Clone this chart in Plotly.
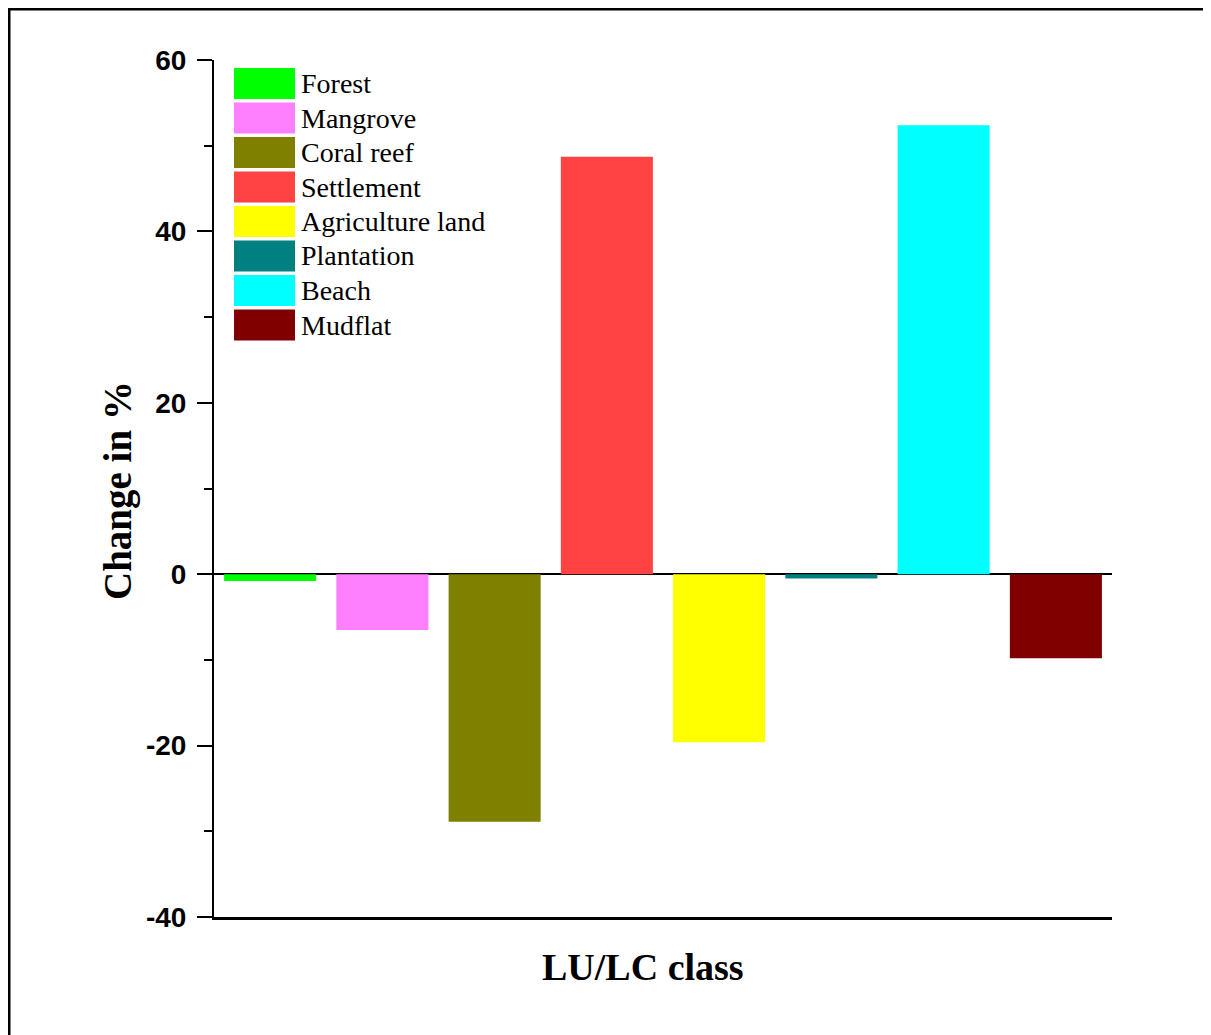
import plotly.graph_objects as go

categories = ["Forest", "Mangrove", "Coral reef", "Settlement",
              "Agriculture land", "Plantation", "Beach", "Mudflat"]
change_pct = [-0.8, -6.5, -28.9, 48.7, -19.6, -0.5, 52.4, -9.8]
colors = ["#00FF00", "#FF80FF", "#808000", "#FF4242",
          "#FFFF00", "#008080", "#00FFFF", "#800000"]
y_ticks = [-40, -20, 0, 20, 40, 60]
y_tick_text = [str(v) for v in y_ticks]

# page body has an 8px margin; figure coordinates = screen - 8
OFF = 8
W, H = 1211 - OFF, 1035 - OFF
L, T = 214 - OFF, 60 - OFF
R, B = W - (1112 - OFF), H - (917 - OFF)
pw, ph = W - L - R, H - T - B


def px(xs):
    return (xs - OFF - L) / pw


def py(ys):
    return 1 - (ys - OFF - T) / ph


fig = go.Figure()
fig.add_trace(go.Bar(
    x=list(range(len(categories))), y=change_pct,
    marker=dict(color=colors, line=dict(width=0)),
    width=0.82, showlegend=False,
    hovertext=categories,
))

# custom legend (large swatches like the original)
sw_x0, sw_x1 = 234, 295
first_top, pitch, sw_h = 68, 34.5, 31
shapes = []
annotations = []
for i, (name, col) in enumerate(zip(categories, colors)):
    top = first_top + i * pitch
    shapes.append(dict(
        type="rect", xref="paper", yref="paper",
        x0=px(sw_x0), x1=px(sw_x1),
        y0=py(top + sw_h), y1=py(top),
        fillcolor=col, line=dict(width=0), layer="above"))
    annotations.append(dict(
        text=name, xref="paper", yref="paper",
        x=px(299), y=py(top + sw_h / 2),
        xanchor="left", yanchor="middle", showarrow=False,
        font=dict(family="Liberation Serif", size=28, color="black")))

# axis titles
annotations.append(dict(
    text="LU/LC class", xref="paper", yref="paper",
    x=px(643), y=py(967), xanchor="center", yanchor="middle",
    showarrow=False,
    font=dict(family="Liberation Serif", size=38, color="black",
              weight="bold")))
annotations.append(dict(
    text="Change in %", xref="paper", yref="paper",
    x=px(118), y=py(491), xanchor="center", yanchor="middle",
    textangle=-90, showarrow=False,
    font=dict(family="Liberation Serif", size=39, color="black",
              weight="bold")))

# outer frame lines (top and left)
shapes.append(dict(type="line", xref="paper", yref="paper",
                   x0=px(OFF), x1=px(1215), y0=py(OFF + 1), y1=py(OFF + 1),
                   line=dict(color="black", width=3)))
shapes.append(dict(type="line", xref="paper", yref="paper",
                   x0=px(OFF + 1), x1=px(OFF + 1), y0=py(OFF), y1=py(1040),
                   line=dict(color="black", width=3)))

fig.update_layout(
    width=W, height=H,
    margin=dict(l=L, r=R, t=T, b=B, autoexpand=False),
    paper_bgcolor="white", plot_bgcolor="white",
    shapes=shapes, annotations=annotations,
    xaxis=dict(
        range=[-0.5, len(categories) - 0.5],
        showticklabels=False, ticks="", showgrid=False, zeroline=False,
        showline=True, linecolor="black", linewidth=3,
    ),
    yaxis=dict(
        range=[-40, 60], tickvals=y_ticks, ticktext=y_tick_text,
        ticks="outside", ticklen=15, tickwidth=2, tickcolor="black",
        minor=dict(dtick=10, ticks="outside", ticklen=8, tickwidth=2,
                   tickcolor="black", showgrid=False),
        showgrid=False, showline=True, linecolor="black", linewidth=2,
        zeroline=True, zerolinecolor="black", zerolinewidth=2,
        layer="above traces",
        tickfont=dict(family="Liberation Sans", size=28, color="black",
                      weight="bold"),
        ticklabelstandoff=5,
    ),
)

fig.write_html("out.html")
